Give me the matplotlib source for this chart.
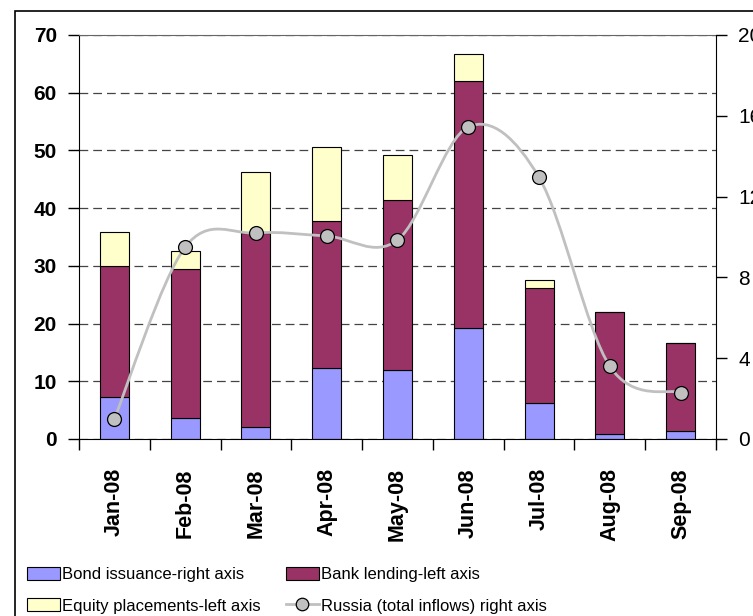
import numpy as np
import matplotlib
matplotlib.use('Agg')
import matplotlib.pyplot as plt
from matplotlib.path import Path
from matplotlib.patches import PathPatch, Patch, Rectangle
from matplotlib.lines import Line2D

plt.rcParams['font.family'] = ['Liberation Sans', 'DejaVu Sans']

months = ['Jan-08', 'Feb-08', 'Mar-08', 'Apr-08', 'May-08', 'Jun-08', 'Jul-08', 'Aug-08', 'Sep-08']
bond = [7.3, 3.6, 2.1, 12.3, 11.9, 19.3, 6.3, 0.8, 1.3]
bank = [22.6, 25.9, 33.6, 25.4, 29.5, 42.8, 19.9, 21.2, 15.3]
equity = [6.0, 3.1, 10.6, 12.9, 7.8, 4.6, 1.4, 0.0, 0.0]
russia = [1.0, 9.5, 10.2, 10.05, 9.85, 15.45, 12.95, 3.6, 2.3]

c_bond = '#9999ff'
c_bank = '#993366'
c_equity = '#ffffcc'
c_line = '#c0c0c0'

fig = plt.figure(figsize=(7.53, 6.16), dpi=100)
ax = fig.add_axes([79 / 753, 1 - 439 / 616, (716 - 79) / 753, (439 - 35) / 616])

x = np.arange(len(months))
w = 0.41
b1 = np.array(bond)
b2 = b1 + np.array(bank)
ax.bar(x, bond, w, color=c_bond, edgecolor='black', linewidth=0.8, zorder=2)
ax.bar(x, bank, w, bottom=b1, color=c_bank, edgecolor='black', linewidth=0.8, zorder=2)
ax.bar(x, equity, w, bottom=b2, color=c_equity, edgecolor='black', linewidth=0.8, zorder=2)

ax.set_xlim(-0.5, len(months) - 0.5)
ax.set_ylim(0, 70)
ax.set_yticks(range(0, 71, 10))
ax.set_xticks(x)
ax.set_xticklabels(months, rotation=90, fontsize=15.5, fontweight='bold')
ax.set_xticks(np.arange(-0.5, len(months), 1), minor=True)
ax.tick_params(axis='x', which='major', length=0, pad=21)
ax.tick_params(axis='x', which='minor', length=8, width=1, direction='out')
ax.tick_params(axis='y', length=8, width=1, direction='out', pad=8, labelsize=15)
for lab in ax.get_yticklabels():
    lab.set_fontweight('bold')

ax.yaxis.grid(True, color='#444444', linestyle=(0, (7, 4)), linewidth=0.9)
ax.set_axisbelow(True)
ax.spines['top'].set_color('#666666')
ax.spines['top'].set_linewidth(0.8)
ax.spines['right'].set_visible(False)

# Russia inflows on the right axis, smoothed like an Excel line
ax2 = ax.twinx()
ax2.set_ylim(0, 20)
ax2.set_yticks(range(0, 21, 4))
ax2.tick_params(axis='y', length=8, width=1, direction='out', pad=8, labelsize=15)
for s in ['top', 'left', 'bottom']:
    ax2.spines[s].set_visible(False)

pts = np.column_stack([x, russia])
verts = [pts[0]]
codes = [Path.MOVETO]
n = len(pts)
for i in range(n - 1):
    p_prev = pts[max(i - 1, 0)]
    p_next2 = pts[min(i + 2, n - 1)]
    c1 = pts[i] + (pts[i + 1] - p_prev) / 6
    c2 = pts[i + 1] - (p_next2 - pts[i]) / 6
    verts += [c1, c2, pts[i + 1]]
    codes += [Path.CURVE4] * 3
ax2.add_patch(PathPatch(Path(verts, codes), facecolor='none', edgecolor=c_line, linewidth=2, zorder=3))
ax2.plot(x, russia, linestyle='none', marker='o', markersize=10,
         markerfacecolor=c_line, markeredgecolor='black', markeredgewidth=0.9, zorder=4)

# frame around the whole chart
fig.patches.append(Rectangle((15 / 753, -0.2), 2, 1 - 11 / 616 + 0.2, transform=fig.transFigure,
                             fill=False, edgecolor='black', linewidth=1.2, clip_on=False))

handles = [
    Patch(facecolor=c_bond, edgecolor='black', linewidth=0.8, label='Bond issuance-right axis'),
    Patch(facecolor=c_equity, edgecolor='black', linewidth=0.8, label='Equity placements-left axis'),
    Patch(facecolor=c_bank, edgecolor='black', linewidth=0.8, label='Bank lending-left axis'),
    Line2D([], [], color=c_line, linewidth=2, marker='o', markersize=9,
           markerfacecolor=c_line, markeredgecolor='black', markeredgewidth=0.9,
           label='Russia (total inflows) right axis'),
]
fig.legend(handles=handles, loc='upper left', bbox_to_anchor=(27 / 753, 1 - 567 / 616), ncol=2,
           frameon=False, fontsize=12,
           handlelength=1.98, handleheight=0.84, handletextpad=0.13,
           labelspacing=0.95, columnspacing=1.5, borderaxespad=0, borderpad=0)

plt.savefig('out.png', dpi=100)
